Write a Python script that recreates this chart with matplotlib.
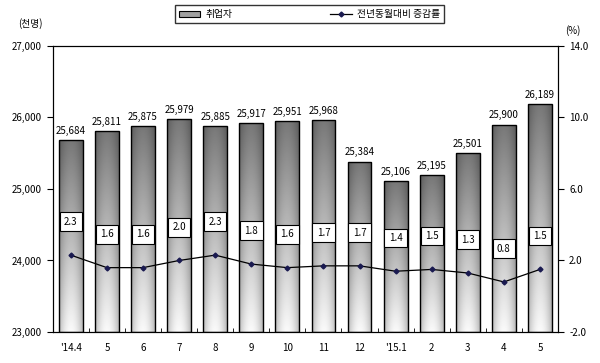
import numpy as np
import matplotlib.pyplot as plt
from matplotlib.lines import Line2D
from matplotlib.patches import Patch

plt.rcParams['font.family'] = ['Noto Sans CJK KR', 'DejaVu Sans']

months = ["'14.4", "5", "6", "7", "8", "9", "10", "11", "12", "'15.1", "2", "3", "4", "5"]
employed = [25684, 25811, 25875, 25979, 25885, 25917, 25951, 25968, 25384, 25106, 25195, 25501, 25900, 26189]
rate = [2.3, 1.6, 1.6, 2.0, 2.3, 1.8, 1.6, 1.7, 1.7, 1.4, 1.5, 1.3, 0.8, 1.5]

fig = plt.figure(figsize=(6, 3.63), dpi=100)
ax = fig.add_axes([0.088, 0.0854, 0.842, 0.788])
x = np.arange(len(months))

# gradient fill for bars: gray at top, near white at bottom, darker at the sides
vert = np.linspace(0.47, 0.98, 100)[:, None]
u = np.linspace(-1, 1, 60)[None, :]
grad = vert * (1 - 0.25 * u ** 2)

bars = ax.bar(x, np.array(employed) - 23000, bottom=23000, width=0.66,
              facecolor='none', edgecolor='black', linewidth=1.0, zorder=3)
for b, v in zip(bars, employed):
    im = ax.imshow(grad, cmap='gray', vmin=0, vmax=1, aspect='auto',
                   extent=(b.get_x(), b.get_x() + b.get_width(), 23000, v), zorder=2)
    im.set_clip_path(b)
    ax.annotate(f"{v:,}", (b.get_x() + b.get_width() / 2, v), xytext=(0, 3),
                textcoords='offset points', ha='center', va='bottom', fontsize=7)

ax.set_xlim(-0.5, len(months) - 0.5)
ax.set_ylim(23000, 27000)
ax.set_yticks([23000, 24000, 25000, 26000, 27000])
ax.set_yticklabels([f"{t:,}" for t in [23000, 24000, 25000, 26000, 27000]], fontsize=7)
ax.set_xticks(x)
ax.set_xticklabels(months, fontsize=7)
ax.tick_params(axis='x', length=0, pad=8)
ax.set_xticks(x[:-1] + 0.5, minor=True)
ax.tick_params(axis='x', which='minor', direction='in', length=3)
ax.tick_params(axis='y', length=4, pad=4)

ax2 = ax.twinx()
ax2.set_ylim(-2, 14)
ax2.set_yticks([-2, 2, 6, 10, 14])
ax2.set_yticklabels([f"{t:.1f}" for t in [-2, 2, 6, 10, 14]], fontsize=7)
ax2.tick_params(axis='y', length=4, pad=4)
ax2.plot(x, rate, color='black', linewidth=0.9, marker='D', markersize=2.5,
         markerfacecolor='#1a1a50', markeredgecolor='#1a1a50', zorder=4)
for xi, r in zip(x, rate):
    ax2.annotate(f"{r:.1f}", (xi, r), xytext=(0, 24), textcoords='offset points',
                 ha='center', va='center', fontsize=7,
                 bbox=dict(boxstyle='square,pad=0.45', facecolor='white', edgecolor='black', linewidth=0.8))

fig.text(0.05, 0.935, "(천명)", fontsize=7, ha='center', va='center')
fig.text(0.955, 0.915, "(%)", fontsize=7, ha='center', va='center')

handles = [Patch(facecolor='#a0a0a0', edgecolor='black', linewidth=0.8),
           Line2D([0], [0], color='black', linewidth=0.9, marker='D', markersize=2.5,
                  markerfacecolor='#1a1a50', markeredgecolor='#1a1a50')]
leg = fig.legend(handles, ["취업자", "전년동월대비 증감률"], ncol=2, loc='center',
                 bbox_to_anchor=(0.516, 0.961), fontsize=7, frameon=True, fancybox=False,
                 edgecolor='black', handlelength=2.2, columnspacing=10, handleheight=0.6,
                 borderpad=0.4, borderaxespad=0, handletextpad=0.6)
leg.get_frame().set_linewidth(1.0)

plt.savefig("out.png", dpi=100)
